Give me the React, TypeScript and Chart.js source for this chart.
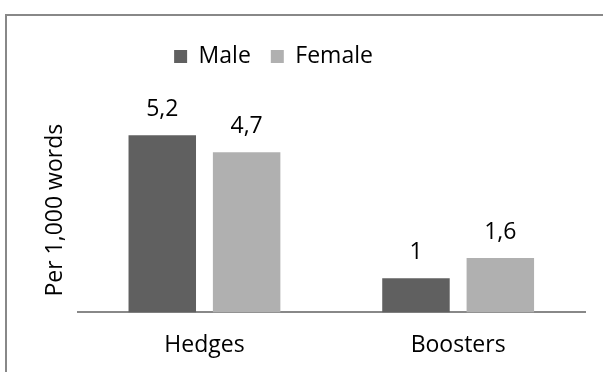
import { useEffect, useRef } from 'react';
import { Chart, registerables } from 'chart.js';

Chart.register(...registerables);

const categories = ['Hedges', 'Boosters'];
const seriesNames = ['Male', 'Female'];
const maleValues = [5.2, 1];
const femaleValues = [4.7, 1.6];
const yTitle = 'Per 1,000 words';

const FONT_FAMILY = "'Open Sans', sans-serif";
const FONT_SIZE = 23;
const MALE_COLOR = '#606060';
const FEMALE_COLOR = '#b0b0b0';
const LINE_COLOR = '#888888';

// Writes each bar's value (with a decimal comma) just above the bar.
const valueLabels = {
  id: 'valueLabels',
  afterDatasetsDraw(chart: any) {
    const ctx = chart.ctx;
    ctx.save();
    ctx.font = `${FONT_SIZE}px ${FONT_FAMILY}`;
    ctx.fillStyle = '#000000';
    ctx.textAlign = 'center';
    ctx.textBaseline = 'alphabetic';
    chart.data.datasets.forEach((ds: any, di: number) => {
      const meta = chart.getDatasetMeta(di);
      meta.data.forEach((bar: any, i: number) => {
        const text = String(ds.data[i]).replace('.', ',');
        ctx.fillText(text, bar.x, bar.y - 19);
      });
    });
    ctx.restore();
  },
};

// Leaves room under the legend and moves it a little to the left.
const legendPlacement = {
  id: 'legendPlacement',
  beforeInit(chart: any) {
    const legend = chart.legend;
    if (!legend) return;
    const fit = legend.fit;
    legend.fit = function (this: any) {
      fit.call(this);
      this.height += 30;
    };
  },
  afterLayout(chart: any) {
    const legend = chart.legend;
    if (!legend) return;
    legend.left -= 38;
    legend.right -= 38;
  },
};

export default function App() {
  const canvasRef = useRef<HTMLCanvasElement | null>(null);

  useEffect(() => {
    if (!canvasRef.current) return;
    const chart = new Chart(canvasRef.current, {
      type: 'bar',
      data: {
        labels: categories,
        datasets: [
          {
            label: seriesNames[0],
            data: maleValues,
            backgroundColor: MALE_COLOR,
            borderWidth: 0,
          },
          {
            label: seriesNames[1],
            data: femaleValues,
            backgroundColor: FEMALE_COLOR,
            borderWidth: 0,
          },
        ],
      },
      options: {
        animation: false,
        responsive: false,
        devicePixelRatio: 1,
        datasets: {
          bar: { categoryPercentage: 0.665, barPercentage: 0.8 },
        },
        layout: { padding: { left: 38, right: 18, top: 25, bottom: 2 } },
        plugins: {
          legend: {
            position: 'top',
            labels: {
              boxWidth: 13,
              boxHeight: 13,
              color: '#000000',
              padding: 20,
              font: { family: FONT_FAMILY, size: FONT_SIZE },
            },
          },
          tooltip: { enabled: false },
        },
        scales: {
          x: {
            grid: { display: false },
            border: { display: true, color: LINE_COLOR, width: 2 },
            ticks: {
              color: '#000000',
              padding: 11,
              font: { family: FONT_FAMILY, size: FONT_SIZE },
            },
          },
          y: {
            min: 0,
            max: 6,
            grid: { display: false, drawTicks: false },
            border: { display: false },
            ticks: { display: false },
            title: {
              display: true,
              text: yTitle,
              color: '#000000',
              font: { family: FONT_FAMILY, size: FONT_SIZE },
              padding: { top: 4, bottom: 8 },
            },
          },
        },
      },
      plugins: [valueLabels, legendPlacement],
    });
    return () => chart.destroy();
  }, []);

  return (
    <div
      style={{
        position: 'fixed',
        left: 0,
        top: 0,
        width: 603,
        height: 372,
        overflow: 'hidden',
        background: '#ffffff',
      }}
    >
      <div
        style={{
          position: 'absolute',
          left: 5,
          top: 14,
          width: 800,
          height: 600,
          border: `2px solid ${LINE_COLOR}`,
          boxSizing: 'border-box',
        }}
      />
      <canvas
        ref={canvasRef}
        width={603}
        height={372}
        style={{ position: 'absolute', left: 0, top: 0 }}
      />
    </div>
  );
}
